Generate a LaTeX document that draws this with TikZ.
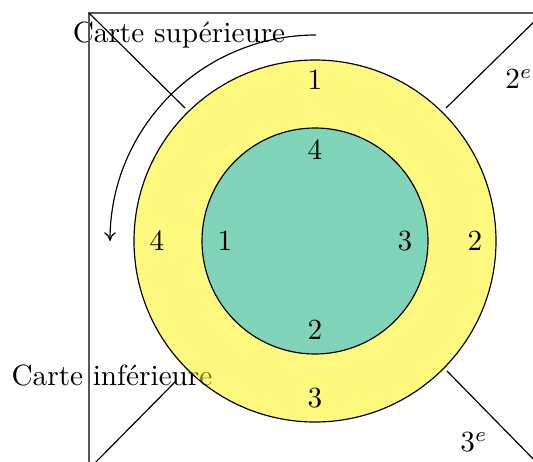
\documentclass[tikz,border=0pt]{standalone}
\usetikzlibrary{arrows.meta}
\definecolor{innergreen}{RGB}{128,212,185}
\tikzset{
  frame/.style={draw=black!65, line width=0.6pt},
  diag/.style={draw=black, line width=0.4pt},
  ring/.style={draw=black, line width=0.4pt},
  lbl/.style={inner sep=0pt, font=\normalsize},
}
\begin{document}
\begin{tikzpicture}[x=0.342pt,y=-0.342pt]
\useasboundingbox (0,0) rectangle (533,461);
\clip (0,0) rectangle (533,461);
\coordinate (c) at (315,241);
% labels drawn first (they sit under the rings)
\node[lbl] (sup) at (179,35) {Carte supérieure};
\node[lbl] (inf) at (112,376) {Carte inférieure};
% frame square
\coordinate (tl) at (89,13);
\coordinate (tr) at (543,13);
\coordinate (br) at (543,469);
\coordinate (bl) at (89,469);
\draw[frame] (bl) -- (tl) -- (tr);
% diagonals
\coordinate (tlin) at (185,108);
\coordinate (trin) at (446,108);
\coordinate (brin) at (447,371);
\coordinate (blin) at (176,381);
\draw[diag] (tl) -- (tlin);
\draw[diag] (tr) -- (trin);
\draw[diag] (br) -- (brin);
\draw[diag] (bl) -- (blin);
% rings
\fill[yellow, fill opacity=0.5] (c) circle[radius=181];
\draw[ring] (c) circle[radius=181];
\draw[ring, fill=innergreen] (c) circle[radius=113];
% arrow
\coordinate (arcstart) at (316,35);
\draw[-{To[length=3pt,width=4pt]}, line width=0.4pt] (arcstart) arc[start angle=270, end angle=180, radius=206];
% outer numbers
\node[lbl] (o1) at (315,80) {1};
\node[lbl] (o2) at (475,241) {2};
\node[lbl] (o3) at (315,398) {3};
\node[lbl] (o4) at (157,241) {4};
% inner numbers
\node[lbl] (i4) at (315,150) {4};
\node[lbl] (i3) at (405,241) {3};
\node[lbl] (i2) at (315,330) {2};
\node[lbl] (i1) at (225,241) {1};
% side labels
\node[lbl] (e2) at (519,79) {$2^e$};
\node[lbl] (e3) at (474,442) {$3^e$};
\end{tikzpicture}
\end{document}
